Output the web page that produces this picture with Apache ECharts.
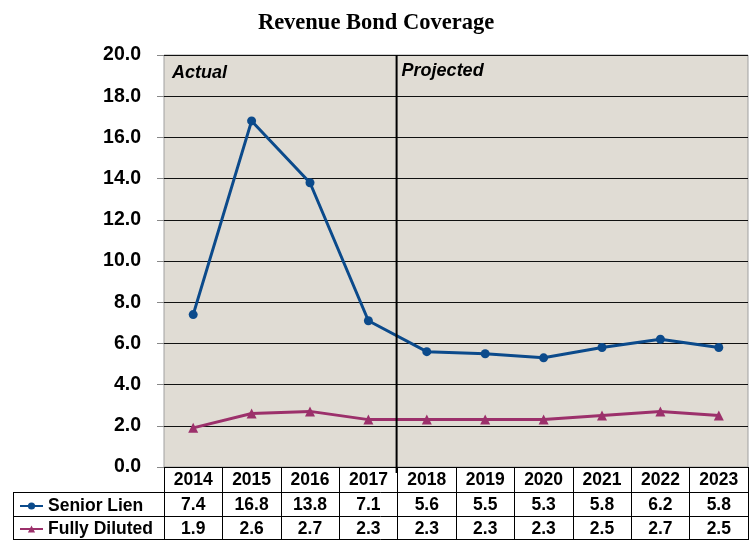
<!DOCTYPE html>
<html>
<head>
<meta charset="utf-8">
<script src="https://cdn.jsdelivr.net/npm/echarts@6/dist/echarts.min.js"></script>
<style>
    body { margin: 0; background: #fff; }
    #chart { width: 752px; height: 540px; }
</style>
</head>
<body>
<div id="chart"></div>
<script>
var years = ['2014', '2015', '2016', '2017', '2018', '2019', '2020', '2021', '2022', '2023'];
var seniorLien = [7.4, 16.8, 13.8, 7.1, 5.6, 5.5, 5.3, 5.8, 6.2, 5.8];
var fullyDiluted = [1.9, 2.6, 2.7, 2.3, 2.3, 2.3, 2.3, 2.5, 2.7, 2.5];
var yTicks = [0, 2, 4, 6, 8, 10, 12, 14, 16, 18, 20];

var blue = '#0b4a8b';
var plum = '#9c306b';
var tableFont = { fontFamily: 'Liberation Sans', fontWeight: 'bold', fontSize: 17.5, color: '#000' };

function rowLabels(arr) {
    var ret = [];
    for (var i = 0; i < arr.length; i++) {
        ret.push(arr[i].toFixed(1));
    }
    return ret;
}

function rowAxis(data, offset) {
    return {
        type: 'category',
        gridIndex: 0,
        position: 'bottom',
        offset: offset,
        data: data,
        axisLine: { show: false },
        axisTick: { show: false },
        axisLabel: Object.assign({ margin: 4 }, tableFont)
    };
}

var chart = echarts.init(document.getElementById('chart'));
var option = {
    animation: false,
    backgroundColor: '#fff',
    title: {
        text: 'Revenue Bond Coverage',
        left: 'center',
        top: 7,
        textStyle: { fontFamily: 'Liberation Serif', fontWeight: 'bold', fontSize: 22.5, color: '#000' }
    },
    legend: [
        {
            orient: 'vertical', left: 14, top: 492, itemWidth: 23, itemHeight: 9, itemGap: 0,
            data: ['Senior Lien'],
            textStyle: tableFont
        },
        {
            orient: 'vertical', left: 14, top: 515, itemWidth: 23, itemHeight: 9, itemGap: 0,
            data: ['Fully Diluted'],
            textStyle: tableFont
        }
    ],
    grid: {
        left: 164, right: 4, top: 55, bottom: 73,
        show: true,
        backgroundColor: '#e0dcd4',
        borderColor: '#a0a0a0',
        borderWidth: 1
    },
    xAxis: [
        {
            type: 'category',
            data: years,
            axisLine: { lineStyle: { color: '#000', width: 1 } },
            axisTick: { show: true, length: 73, lineStyle: { color: '#000', width: 1 } },
            axisLabel: Object.assign({ margin: 4 }, tableFont)
        },
        rowAxis(rowLabels(seniorLien), 25),
        rowAxis(rowLabels(fullyDiluted), 49)
    ],
    yAxis: {
        type: 'value',
        min: yTicks[0],
        max: yTicks[yTicks.length - 1],
        interval: 2,
        axisLine: { show: false },
        axisTick: { show: true, length: 7, lineStyle: { color: '#888' } },
        axisLabel: {
            margin: 23,
            fontFamily: 'Liberation Sans', fontWeight: 'bold', fontSize: 19.5, color: '#000',
            formatter: function (v) { return v.toFixed(1); }
        },
        splitLine: { lineStyle: { color: '#111', width: 1.2 } }
    },
    series: [
        {
            name: 'Senior Lien',
            type: 'line',
            data: seniorLien,
            symbol: 'circle',
            symbolSize: 9,
            color: blue,
            lineStyle: { width: 3, color: blue },
            itemStyle: { color: blue }
        },
        {
            name: 'Fully Diluted',
            type: 'line',
            data: fullyDiluted,
            symbol: 'triangle',
            symbolSize: 10,
            color: plum,
            lineStyle: { width: 3, color: plum },
            itemStyle: { color: plum }
        }
    ]
};
chart.setOption(option);

// divider between actual and projected, plus table borders
var x3 = chart.convertToPixel({ xAxisIndex: 0 }, 3);
var x4 = chart.convertToPixel({ xAxisIndex: 0 }, 4);
var divX = (x3 + x4) / 2 - 1;
var lineStyle = { stroke: '#000', lineWidth: 1 };
chart.setOption({
    graphic: [
        { type: 'line', shape: { x1: divX, y1: 55, x2: divX, y2: 473 }, style: { stroke: '#000', lineWidth: 2 }, z: 100 },
        { type: 'text', left: 172, top: 64, style: { text: 'Actual', font: 'italic bold 18px "Liberation Sans"', fill: '#000' } },
        { type: 'text', left: divX + 5, top: 62, style: { text: 'Projected', font: 'italic bold 18px "Liberation Sans"', fill: '#000' } },
        { type: 'line', shape: { x1: 13, y1: 492.5, x2: 748, y2: 492.5 }, style: lineStyle },
        { type: 'line', shape: { x1: 13, y1: 516.5, x2: 748, y2: 516.5 }, style: lineStyle },
        { type: 'line', shape: { x1: 13, y1: 539.5, x2: 748, y2: 539.5 }, style: lineStyle },
        { type: 'line', shape: { x1: 13.5, y1: 492, x2: 13.5, y2: 540 }, style: lineStyle }
    ]
});
</script>
</body>
</html>
